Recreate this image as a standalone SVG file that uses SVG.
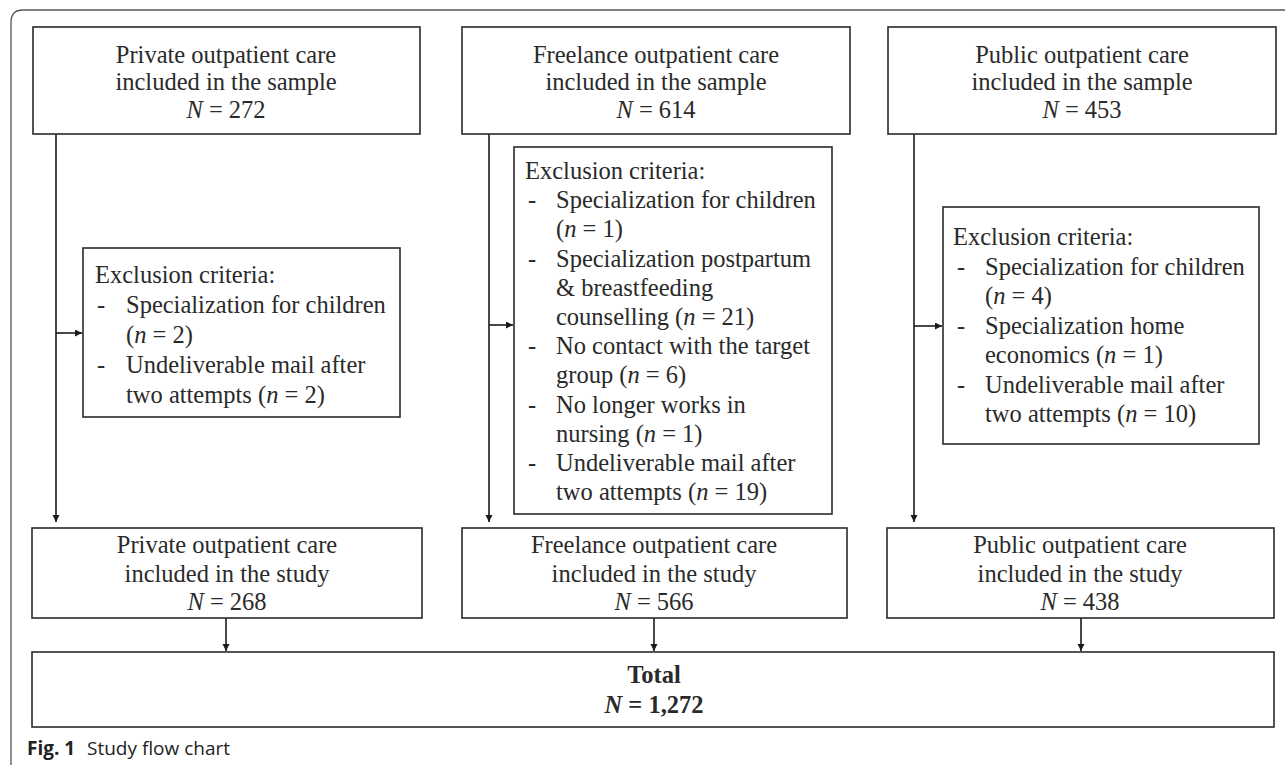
<svg xmlns="http://www.w3.org/2000/svg" width="1285" height="765" viewBox="0 0 1285 765">
<style>
.box{fill:#fff;stroke:#2a2a2a;stroke-width:1.6}
.t{font-family:"Liberation Serif","Times New Roman",serif;font-size:24.5px;fill:#2a2a2a}
.c{text-anchor:middle}
.i{font-style:italic}
.b{font-weight:bold}
.ln{fill:none;stroke:#1a1a1a;stroke-width:1.6}
.cap{font-family:"Open Sans","Liberation Sans",sans-serif;font-size:19px;fill:#222}
</style>
<defs>
<marker id="ah" markerWidth="8" markerHeight="8" refX="7" refY="3.5" orient="auto" markerUnits="userSpaceOnUse">
<path d="M0,0 L7,3.5 L0,7 Z" fill="#1a1a1a"/>
</marker>
</defs>
<rect width="1285" height="765" fill="#fff"/>
<path d="M11,765 L11,22 Q11,10 23,10 L1285,10" fill="none" stroke="#555" stroke-width="1.3"/>

<g id="connectors">
<path class="ln" d="M56,134 L56,522" marker-end="url(#ah)"/>
<path class="ln" d="M56,333 L82,333" marker-end="url(#ah)"/>
<path class="ln" d="M489,134 L489,522" marker-end="url(#ah)"/>
<path class="ln" d="M489,325 L513,325" marker-end="url(#ah)"/>
<path class="ln" d="M914,134 L914,522" marker-end="url(#ah)"/>
<path class="ln" d="M914,326 L942,326" marker-end="url(#ah)"/>
<path class="ln" d="M226,618 L226,651" marker-end="url(#ah)"/>
<path class="ln" d="M654,618 L654,651" marker-end="url(#ah)"/>
<path class="ln" d="M1081,618 L1081,651" marker-end="url(#ah)"/>
</g>

<g id="private-sample">
<rect class="box" x="33" y="27" width="387" height="107"/>
<text class="t c" x="226" y="63">Private outpatient care</text>
<text class="t c" x="226" y="90">included in the sample</text>
<text class="t c" x="226" y="118"><tspan class="i">N</tspan> = 272</text>
</g>
<g id="freelance-sample">
<rect class="box" x="462" y="27" width="388" height="107"/>
<text class="t c" x="656" y="63">Freelance outpatient care</text>
<text class="t c" x="656" y="90">included in the sample</text>
<text class="t c" x="656" y="118"><tspan class="i">N</tspan> = 614</text>
</g>
<g id="public-sample">
<rect class="box" x="888" y="27" width="388" height="107"/>
<text class="t c" x="1082" y="63">Public outpatient care</text>
<text class="t c" x="1082" y="90">included in the sample</text>
<text class="t c" x="1082" y="118"><tspan class="i">N</tspan> = 453</text>
</g>

<g id="private-exclusion">
<rect class="box" x="83" y="248" width="317" height="169"/>
<text class="t" x="95" y="283">Exclusion criteria:</text>
<text class="t" x="97" y="313">-</text><text class="t" x="126" y="313">Specialization for children</text>
<text class="t" x="126" y="343">(<tspan class="i">n</tspan> = 2)</text>
<text class="t" x="97" y="373">-</text><text class="t" x="126" y="373">Undeliverable mail after</text>
<text class="t" x="126" y="403">two attempts (<tspan class="i">n</tspan> = 2)</text>
</g>

<g id="freelance-exclusion">
<rect class="box" x="514" y="147" width="318" height="367"/>
<text class="t" x="525" y="179">Exclusion criteria:</text>
<text class="t" x="528" y="208">-</text><text class="t" x="556" y="208">Specialization for children</text>
<text class="t" x="556" y="237">(<tspan class="i">n</tspan> = 1)</text>
<text class="t" x="528" y="267">-</text><text class="t" x="556" y="267">Specialization postpartum</text>
<text class="t" x="556" y="296">&amp; breastfeeding</text>
<text class="t" x="556" y="325">counselling (<tspan class="i">n</tspan> = 21)</text>
<text class="t" x="528" y="354">-</text><text class="t" x="556" y="354">No contact with the target</text>
<text class="t" x="556" y="383">group (<tspan class="i">n</tspan> = 6)</text>
<text class="t" x="528" y="413">-</text><text class="t" x="556" y="413">No longer works in</text>
<text class="t" x="556" y="442">nursing (<tspan class="i">n</tspan> = 1)</text>
<text class="t" x="528" y="471">-</text><text class="t" x="556" y="471">Undeliverable mail after</text>
<text class="t" x="556" y="500">two attempts (<tspan class="i">n</tspan> = 19)</text>
</g>

<g id="public-exclusion">
<rect class="box" x="943" y="207" width="316" height="237"/>
<text class="t" x="953" y="245">Exclusion criteria:</text>
<text class="t" x="957" y="275">-</text><text class="t" x="985" y="275">Specialization for children</text>
<text class="t" x="985" y="304">(<tspan class="i">n</tspan> = 4)</text>
<text class="t" x="957" y="334">-</text><text class="t" x="985" y="334">Specialization home</text>
<text class="t" x="985" y="363">economics (<tspan class="i">n</tspan> = 1)</text>
<text class="t" x="957" y="393">-</text><text class="t" x="985" y="393">Undeliverable mail after</text>
<text class="t" x="985" y="422">two attempts (<tspan class="i">n</tspan> = 10)</text>
</g>

<g id="private-study">
<rect class="box" x="32" y="528" width="390" height="90"/>
<text class="t c" x="227" y="553">Private outpatient care</text>
<text class="t c" x="227" y="582">included in the study</text>
<text class="t c" x="227" y="610"><tspan class="i">N</tspan> = 268</text>
</g>
<g id="freelance-study">
<rect class="box" x="462" y="528" width="385" height="90"/>
<text class="t c" x="654" y="553">Freelance outpatient care</text>
<text class="t c" x="654" y="582">included in the study</text>
<text class="t c" x="654" y="610"><tspan class="i">N</tspan> = 566</text>
</g>
<g id="public-study">
<rect class="box" x="887" y="528" width="387" height="90"/>
<text class="t c" x="1080" y="553">Public outpatient care</text>
<text class="t c" x="1080" y="582">included in the study</text>
<text class="t c" x="1080" y="610"><tspan class="i">N</tspan> = 438</text>
</g>

<g id="total">
<rect class="box" x="32" y="652" width="1242" height="75"/>
<text class="t c b" x="654" y="683">Total</text>
<text class="t c b" x="654" y="713"><tspan class="i">N</tspan> = 1,272</text>
</g>

<text class="cap" x="27" y="755"><tspan font-weight="bold">Fig. 1</tspan><tspan x="87">Study flow chart</tspan></text>
</svg>
